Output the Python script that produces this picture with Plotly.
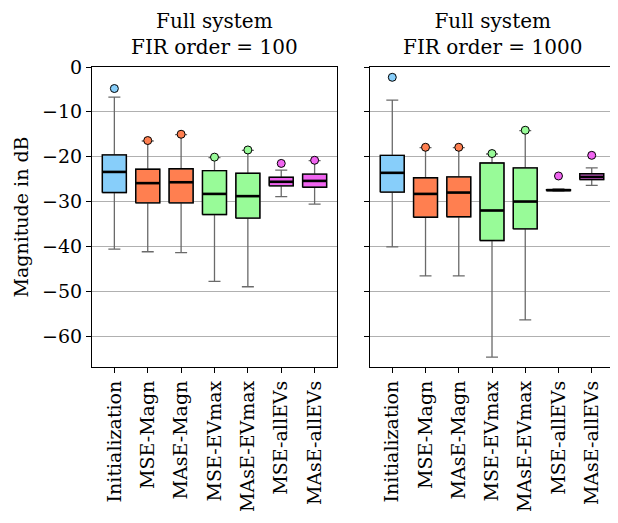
import plotly.graph_objects as go

categories = ["Initialization", "MSE-Magn", "MAsE-Magn", "MSE-EVmax",
              "MAsE-EVmax", "MSE-allEVs", "MAsE-allEVs"]
colors = ["#87CEFA", "#FF7F50", "#FF7F50", "#98FB98", "#98FB98", "#F064F0", "#F064F0"]

# FIR order = 100
lower_100 = [-40.6, -41.2, -41.4, -47.8, -49.0, -28.9, -30.6]
q1_100 = [-28.0, -30.3, -30.3, -32.9, -33.7, -26.5, -26.8]
med_100 = [-23.4, -25.9, -25.7, -28.3, -28.8, -25.6, -25.4]
q3_100 = [-19.6, -22.8, -22.7, -23.1, -23.7, -24.6, -23.9]
upper_100 = [-6.7, -16.5, -15.1, -20.2, -18.6, -23.0, -20.9]
outl_100 = [-4.8, -16.4, -15.0, -20.1, -18.5, -21.5, -20.8]

# FIR order = 1000
lower_1000 = [-40.1, -46.6, -46.6, -64.7, -56.4, -27.7, -26.4]
q1_1000 = [-27.9, -33.5, -33.4, -38.7, -36.1, -27.55, -25.1]
med_1000 = [-23.6, -28.3, -28.0, -32.0, -30.0, -27.45, -24.5]
q3_1000 = [-19.7, -24.7, -24.5, -21.4, -22.5, -27.35, -23.8]
upper_1000 = [-7.4, -18.0, -18.0, -19.4, -14.2, -27.2, -22.5]
outl_1000 = [-2.3, -17.9, -17.9, -19.3, -14.1, -24.3, -19.7]

titles = ["Full system<br>FIR order = 100", "Full system<br>FIR order = 1000"]

FONT = "DejaVu Serif"
FS = 19
BW = 0.72
positions = list(range(1, len(categories) + 1))

fig = go.Figure()

panels = [
    ("x", "y", lower_100, q1_100, med_100, q3_100, upper_100, outl_100),
    ("x2", "y2", lower_1000, q1_1000, med_1000, q3_1000, upper_1000, outl_1000),
]

for xa, ya, lo, q1, md, q3, up, ol in panels:
    for i, p in enumerate(positions):
        fig.add_trace(go.Box(
            x=[p], q1=[q1[i]], median=[md[i]], q3=[q3[i]],
            lowerfence=[lo[i]], upperfence=[up[i]],
            width=BW, whiskerwidth=0.5, fillcolor=colors[i],
            line=dict(color="#6a6a6a", width=1.3),
            boxpoints=False, showlegend=False, hoverinfo="skip",
            xaxis=xa, yaxis=ya))
        # black box outline
        fig.add_trace(go.Scatter(
            x=[p - BW / 2, p + BW / 2, p + BW / 2, p - BW / 2, p - BW / 2],
            y=[q1[i], q1[i], q3[i], q3[i], q1[i]],
            mode="lines", line=dict(color="black", width=1.4),
            showlegend=False, hoverinfo="skip", xaxis=xa, yaxis=ya))
        # black median
        fig.add_trace(go.Scatter(
            x=[p - BW / 2, p + BW / 2], y=[md[i], md[i]],
            mode="lines", line=dict(color="black", width=2.6),
            showlegend=False, hoverinfo="skip", xaxis=xa, yaxis=ya))
        # outlier
        fig.add_trace(go.Scatter(
            x=[p], y=[ol[i]], mode="markers",
            marker=dict(size=8, color=colors[i], line=dict(color="black", width=1)),
            showlegend=False, hoverinfo="skip", xaxis=xa, yaxis=ya))

axis_common = dict(showline=True, mirror=True, linecolor="black", linewidth=1.2,
                   ticks="outside", ticklen=5, tickcolor="black", tickwidth=1,
                   automargin=False)

xcommon = dict(axis_common, range=[0.33, 7.67], tickmode="array", tickvals=positions,
               ticktext=categories, tickangle=-90, showgrid=False, zeroline=False,
               tickfont=dict(family=FONT, size=FS, color="black"))
ycommon = dict(axis_common, range=[-66.9, 0], tickmode="array",
               tickvals=[0, -10, -20, -30, -40, -50, -60], showgrid=True,
               gridcolor="#b0b0b0", gridwidth=1, zeroline=False,
               tickfont=dict(family=FONT, size=FS, color="black"))

fig.update_layout(
    width=618, height=523,
    margin=dict(l=84, r=12, t=59, b=164),
    paper_bgcolor="white", plot_bgcolor="white",
    font=dict(family=FONT, size=FS, color="black"),
    xaxis=dict(xcommon, domain=[0, 0.4693], anchor="y"),
    xaxis2=dict(xcommon, domain=[0.5326, 1], anchor="y2"),
    yaxis=dict(ycommon, anchor="x",
               title=dict(text="Magnitude in dB", standoff=8,
                          font=dict(family=FONT, size=FS, color="black"))),
    yaxis2=dict(ycommon, anchor="x2", matches="y", showticklabels=False),
    showlegend=False,
)

for xc, t in zip([0.2346, 0.7663], titles):
    fig.add_annotation(text=t, x=xc, y=1, xref="paper", yref="paper",
                       xanchor="center", yanchor="bottom", yshift=6,
                       showarrow=False,
                       font=dict(family=FONT, size=20, color="black"))

fig.write_html("out.html")
